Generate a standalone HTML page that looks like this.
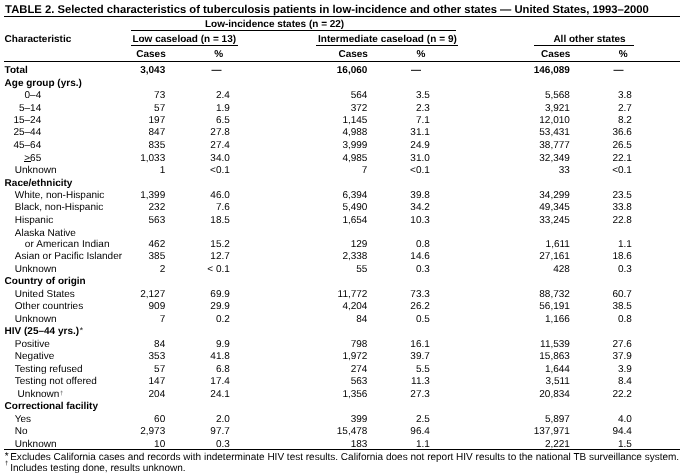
<!DOCTYPE html>
<html><head><meta charset="utf-8"><style>
html,body{margin:0;padding:0;background:#fff;}
body{width:685px;height:476px;position:relative;overflow:hidden;}
#w{position:absolute;left:0;top:0;width:685px;height:476px;will-change:transform;}
.t{text-rendering:geometricPrecision;position:absolute;font-family:"Liberation Sans",sans-serif;font-size:10px;line-height:10px;color:#000;white-space:nowrap;}
.r{text-align:right;}
.b{font-weight:bold;}
.title{font-weight:bold;font-size:11.25px;}
.ln{position:absolute;background:#000;}
sup{font-size:8.5px;line-height:0;vertical-align:1.5px;font-weight:normal;margin-left:0.6px;}
.fm{font-size:6px;line-height:6px;}
.fn{font-size:10.02px;}
sup.d{font-size:6px;vertical-align:2px;margin-left:0.8px;color:#555;}
u{text-decoration:underline;}
</style></head><body><div id="w">
<div class="t title" style="left:5.1px;top:5px">TABLE 2. Selected characteristics of tuberculosis patients in low-incidence and other states — United States, 1993–2000</div>
<div class="ln" style="left:4px;width:676px;top:16px;height:1px"></div>
<div class="t b" style="left:205.0px;top:20px;">Low-incidence states (n = 22)</div>
<div class="ln" style="left:131px;width:325px;top:30px;height:1px"></div>
<div class="t b" style="left:4.6px;top:35px;">Characteristic</div>
<div class="t b" style="left:132.4px;top:35px;">Low caseload (n = 13)</div>
<div class="t b" style="left:317.9px;top:35px;letter-spacing:0.05px;">Intermediate caseload (n = 9)</div>
<div class="t b" style="left:553.4px;top:35px;">All other states</div>
<div class="ln" style="left:131px;width:107px;top:45px;height:1px"></div>
<div class="ln" style="left:316px;width:142px;top:45px;height:1px"></div>
<div class="ln" style="left:534px;width:100px;top:45px;height:1px"></div>
<div class="t r b" style="right:519.3px;top:50px;">Cases</div>
<div class="t r b" style="right:317.1px;top:50px;">Cases</div>
<div class="t r b" style="right:114.6px;top:50px;">Cases</div>
<div class="t b" style="left:214.2px;top:50px;">%</div>
<div class="t b" style="left:416.6px;top:50px;">%</div>
<div class="t b" style="left:618.8px;top:50px;">%</div>
<div class="ln" style="left:4px;width:676px;top:61px;height:1px"></div>
<div class="t b" style="left:4.6px;top:66px;">Total</div>
<div class="t r b" style="right:519.8px;top:66px;">3,043</div>
<div class="t b" style="left:211.4px;top:66px;">—</div>
<div class="t r b" style="right:317.6px;top:66px;">16,060</div>
<div class="t b" style="left:411.0px;top:66px;">—</div>
<div class="t r b" style="right:115.1px;top:66px;">146,089</div>
<div class="t b" style="left:613.6px;top:66px;">—</div>
<div class="t b" style="left:4.6px;top:79px;">Age group (yrs.)</div>
<div class="t r " style="right:643.8px;top:91px;">0–4</div>
<div class="t r " style="right:519.8px;top:91px;">73</div>
<div class="t r " style="right:455.2px;top:91px;">2.4</div>
<div class="t r " style="right:317.6px;top:91px;">564</div>
<div class="t r " style="right:255.2px;top:91px;">3.5</div>
<div class="t r " style="right:115.1px;top:91px;">5,568</div>
<div class="t r " style="right:53.1px;top:91px;">3.8</div>
<div class="t r " style="right:643.8px;top:104px;">5–14</div>
<div class="t r " style="right:519.8px;top:104px;">57</div>
<div class="t r " style="right:455.2px;top:104px;">1.9</div>
<div class="t r " style="right:317.6px;top:104px;">372</div>
<div class="t r " style="right:255.2px;top:104px;">2.3</div>
<div class="t r " style="right:115.1px;top:104px;">3,921</div>
<div class="t r " style="right:53.1px;top:104px;">2.7</div>
<div class="t r " style="right:643.8px;top:116px;">15–24</div>
<div class="t r " style="right:519.8px;top:116px;">197</div>
<div class="t r " style="right:455.2px;top:116px;">6.5</div>
<div class="t r " style="right:317.6px;top:116px;">1,145</div>
<div class="t r " style="right:255.2px;top:116px;">7.1</div>
<div class="t r " style="right:115.1px;top:116px;">12,010</div>
<div class="t r " style="right:53.1px;top:116px;">8.2</div>
<div class="t r " style="right:643.8px;top:128px;">25–44</div>
<div class="t r " style="right:519.8px;top:128px;">847</div>
<div class="t r " style="right:455.2px;top:128px;">27.8</div>
<div class="t r " style="right:317.6px;top:128px;">4,988</div>
<div class="t r " style="right:255.2px;top:128px;">31.1</div>
<div class="t r " style="right:115.1px;top:128px;">53,431</div>
<div class="t r " style="right:53.1px;top:128px;">36.6</div>
<div class="t r " style="right:643.8px;top:141px;">45–64</div>
<div class="t r " style="right:519.8px;top:141px;">835</div>
<div class="t r " style="right:455.2px;top:141px;">27.4</div>
<div class="t r " style="right:317.6px;top:141px;">3,999</div>
<div class="t r " style="right:255.2px;top:141px;">24.9</div>
<div class="t r " style="right:115.1px;top:141px;">38,777</div>
<div class="t r " style="right:53.1px;top:141px;">26.5</div>
<div class="t r " style="right:643.8px;top:154px;">&gt;65</div>
<div class="t r " style="right:519.8px;top:154px;">1,033</div>
<div class="t r " style="right:455.2px;top:154px;">34.0</div>
<div class="t r " style="right:317.6px;top:154px;">4,985</div>
<div class="t r " style="right:255.2px;top:154px;">31.0</div>
<div class="t r " style="right:115.1px;top:154px;">32,349</div>
<div class="t r " style="right:53.1px;top:154px;">22.1</div>
<div class="t " style="left:14.8px;top:166px;">Unknown</div>
<div class="t r " style="right:519.8px;top:166px;">1</div>
<div class="t r " style="right:455.2px;top:166px;">&lt;0.1</div>
<div class="t r " style="right:317.6px;top:166px;">7</div>
<div class="t r " style="right:255.2px;top:166px;">&lt;0.1</div>
<div class="t r " style="right:115.1px;top:166px;">33</div>
<div class="t r " style="right:53.1px;top:166px;">&lt;0.1</div>
<div class="t b" style="left:4.6px;top:179px;">Race/ethnicity</div>
<div class="t " style="left:14.8px;top:191px;">White, non-Hispanic</div>
<div class="t r " style="right:519.8px;top:191px;">1,399</div>
<div class="t r " style="right:455.2px;top:191px;">46.0</div>
<div class="t r " style="right:317.6px;top:191px;">6,394</div>
<div class="t r " style="right:255.2px;top:191px;">39.8</div>
<div class="t r " style="right:115.1px;top:191px;">34,299</div>
<div class="t r " style="right:53.1px;top:191px;">23.5</div>
<div class="t " style="left:14.8px;top:203px;">Black, non-Hispanic</div>
<div class="t r " style="right:519.8px;top:203px;">232</div>
<div class="t r " style="right:455.2px;top:203px;">7.6</div>
<div class="t r " style="right:317.6px;top:203px;">5,490</div>
<div class="t r " style="right:255.2px;top:203px;">34.2</div>
<div class="t r " style="right:115.1px;top:203px;">49,345</div>
<div class="t r " style="right:53.1px;top:203px;">33.8</div>
<div class="t " style="left:14.8px;top:216px;">Hispanic</div>
<div class="t r " style="right:519.8px;top:216px;">563</div>
<div class="t r " style="right:455.2px;top:216px;">18.5</div>
<div class="t r " style="right:317.6px;top:216px;">1,654</div>
<div class="t r " style="right:255.2px;top:216px;">10.3</div>
<div class="t r " style="right:115.1px;top:216px;">33,245</div>
<div class="t r " style="right:53.1px;top:216px;">22.8</div>
<div class="t " style="left:14.8px;top:229px;">Alaska Native</div>
<div class="t " style="left:24.8px;top:240px;letter-spacing:0.08px;">or American Indian</div>
<div class="t r " style="right:519.8px;top:240px;">462</div>
<div class="t r " style="right:455.2px;top:240px;">15.2</div>
<div class="t r " style="right:317.6px;top:240px;">129</div>
<div class="t r " style="right:255.2px;top:240px;">0.8</div>
<div class="t r " style="right:115.1px;top:240px;">1,611</div>
<div class="t r " style="right:53.1px;top:240px;">1.1</div>
<div class="t " style="left:14.8px;top:252px;">Asian or Pacific Islander</div>
<div class="t r " style="right:519.8px;top:252px;">385</div>
<div class="t r " style="right:455.2px;top:252px;">12.7</div>
<div class="t r " style="right:317.6px;top:252px;">2,338</div>
<div class="t r " style="right:255.2px;top:252px;">14.6</div>
<div class="t r " style="right:115.1px;top:252px;">27,161</div>
<div class="t r " style="right:53.1px;top:252px;">18.6</div>
<div class="t " style="left:14.8px;top:265px;">Unknown</div>
<div class="t r " style="right:519.8px;top:265px;">2</div>
<div class="t r " style="right:455.2px;top:265px;">&lt; 0.1</div>
<div class="t r " style="right:317.6px;top:265px;">55</div>
<div class="t r " style="right:255.2px;top:265px;">0.3</div>
<div class="t r " style="right:115.1px;top:265px;">428</div>
<div class="t r " style="right:53.1px;top:265px;">0.3</div>
<div class="t b" style="left:4.6px;top:277px;">Country of origin</div>
<div class="t " style="left:14.8px;top:290px;">United States</div>
<div class="t r " style="right:519.8px;top:290px;">2,127</div>
<div class="t r " style="right:455.2px;top:290px;">69.9</div>
<div class="t r " style="right:317.6px;top:290px;">11,772</div>
<div class="t r " style="right:255.2px;top:290px;">73.3</div>
<div class="t r " style="right:115.1px;top:290px;">88,732</div>
<div class="t r " style="right:53.1px;top:290px;">60.7</div>
<div class="t " style="left:14.8px;top:302px;">Other countries</div>
<div class="t r " style="right:519.8px;top:302px;">909</div>
<div class="t r " style="right:455.2px;top:302px;">29.9</div>
<div class="t r " style="right:317.6px;top:302px;">4,204</div>
<div class="t r " style="right:255.2px;top:302px;">26.2</div>
<div class="t r " style="right:115.1px;top:302px;">56,191</div>
<div class="t r " style="right:53.1px;top:302px;">38.5</div>
<div class="t " style="left:14.8px;top:315px;">Unknown</div>
<div class="t r " style="right:519.8px;top:315px;">7</div>
<div class="t r " style="right:455.2px;top:315px;">0.2</div>
<div class="t r " style="right:317.6px;top:315px;">84</div>
<div class="t r " style="right:255.2px;top:315px;">0.5</div>
<div class="t r " style="right:115.1px;top:315px;">1,166</div>
<div class="t r " style="right:53.1px;top:315px;">0.8</div>
<div class="t b" style="left:4.6px;top:327px;">HIV (25–44 yrs.)<sup>*</sup></div>
<div class="t " style="left:14.8px;top:340px;">Positive</div>
<div class="t r " style="right:519.8px;top:340px;">84</div>
<div class="t r " style="right:455.2px;top:340px;">9.9</div>
<div class="t r " style="right:317.6px;top:340px;">798</div>
<div class="t r " style="right:255.2px;top:340px;">16.1</div>
<div class="t r " style="right:115.1px;top:340px;">11,539</div>
<div class="t r " style="right:53.1px;top:340px;">27.6</div>
<div class="t " style="left:14.8px;top:352px;">Negative</div>
<div class="t r " style="right:519.8px;top:352px;">353</div>
<div class="t r " style="right:455.2px;top:352px;">41.8</div>
<div class="t r " style="right:317.6px;top:352px;">1,972</div>
<div class="t r " style="right:255.2px;top:352px;">39.7</div>
<div class="t r " style="right:115.1px;top:352px;">15,863</div>
<div class="t r " style="right:53.1px;top:352px;">37.9</div>
<div class="t " style="left:14.8px;top:365px;">Testing refused</div>
<div class="t r " style="right:519.8px;top:365px;">57</div>
<div class="t r " style="right:455.2px;top:365px;">6.8</div>
<div class="t r " style="right:317.6px;top:365px;">274</div>
<div class="t r " style="right:255.2px;top:365px;">5.5</div>
<div class="t r " style="right:115.1px;top:365px;">1,644</div>
<div class="t r " style="right:53.1px;top:365px;">3.9</div>
<div class="t " style="left:14.8px;top:377px;">Testing not offered</div>
<div class="t r " style="right:519.8px;top:377px;">147</div>
<div class="t r " style="right:455.2px;top:377px;">17.4</div>
<div class="t r " style="right:317.6px;top:377px;">563</div>
<div class="t r " style="right:255.2px;top:377px;">11.3</div>
<div class="t r " style="right:115.1px;top:377px;">3,511</div>
<div class="t r " style="right:53.1px;top:377px;">8.4</div>
<div class="t " style="left:17.6px;top:390px;">Unknown<sup class="d">†</sup></div>
<div class="t r " style="right:519.8px;top:390px;">204</div>
<div class="t r " style="right:455.2px;top:390px;">24.1</div>
<div class="t r " style="right:317.6px;top:390px;">1,356</div>
<div class="t r " style="right:255.2px;top:390px;">27.3</div>
<div class="t r " style="right:115.1px;top:390px;">20,834</div>
<div class="t r " style="right:53.1px;top:390px;">22.2</div>
<div class="t b" style="left:4.6px;top:402px;">Correctional facility</div>
<div class="t " style="left:14.8px;top:415px;">Yes</div>
<div class="t r " style="right:519.8px;top:415px;">60</div>
<div class="t r " style="right:455.2px;top:415px;">2.0</div>
<div class="t r " style="right:317.6px;top:415px;">399</div>
<div class="t r " style="right:255.2px;top:415px;">2.5</div>
<div class="t r " style="right:115.1px;top:415px;">5,897</div>
<div class="t r " style="right:53.1px;top:415px;">4.0</div>
<div class="t " style="left:14.8px;top:427px;">No</div>
<div class="t r " style="right:519.8px;top:427px;">2,973</div>
<div class="t r " style="right:455.2px;top:427px;">97.7</div>
<div class="t r " style="right:317.6px;top:427px;">15,478</div>
<div class="t r " style="right:255.2px;top:427px;">96.4</div>
<div class="t r " style="right:115.1px;top:427px;">137,971</div>
<div class="t r " style="right:53.1px;top:427px;">94.4</div>
<div class="t " style="left:14.8px;top:440px;">Unknown</div>
<div class="t r " style="right:519.8px;top:440px;">10</div>
<div class="t r " style="right:455.2px;top:440px;">0.3</div>
<div class="t r " style="right:317.6px;top:440px;">183</div>
<div class="t r " style="right:255.2px;top:440px;">1.1</div>
<div class="t r " style="right:115.1px;top:440px;">2,221</div>
<div class="t r " style="right:53.1px;top:440px;">1.5</div>
<div class="ln" style="left:4px;width:676px;top:449px;height:1px"></div>
<div class="ln" style="left:24px;width:7px;top:161px;height:1px"></div>
<div class="t fn" style="left:10.2px;top:453px">Excludes California cases and records with indeterminate HIV test results. California does not report HIV results to the national TB surveillance system.</div>
<div class="t" style="left:4.8px;top:452px">*</div>
<div class="t fn" style="left:10.2px;top:464px">Includes testing done, results unknown.</div>
<div class="t fm" style="left:4.9px;top:461px">†</div>
</div></body></html>
